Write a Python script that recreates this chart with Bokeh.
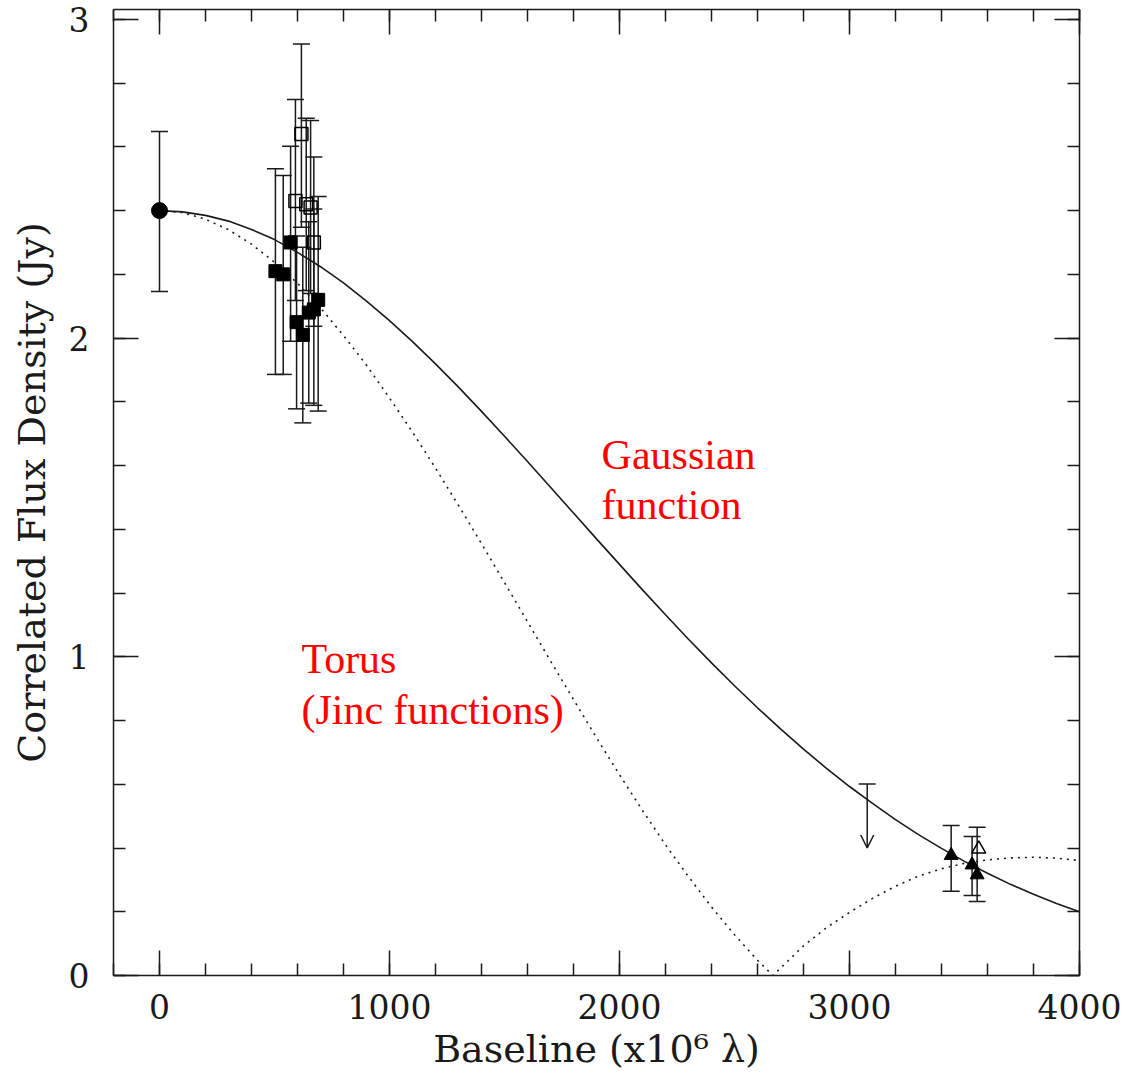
from bokeh.plotting import figure
from bokeh.models import (ColumnDataSource, Whisker, TeeHead, Arrow, OpenHead, Label,
                          LinearAxis, SingleIntervalTicker, Range1d)
from bokeh.embed import file_html
from bokeh.resources import INLINE

# ---------------- data ----------------
gauss_x = [0, 100, 200, 300, 400, 500, 600, 700, 800, 900, 1000, 1100, 1200, 1300, 1400,
           1500, 1600, 1700, 1800, 1900, 2000, 2100, 2200, 2300, 2400, 2500, 2600, 2700,
           2800, 2900, 3000, 3100, 3200, 3300, 3400, 3500, 3600, 3700, 3800, 3900, 4000]
gauss_y = [2.400, 2.396, 2.385, 2.367, 2.341, 2.309, 2.269, 2.224, 2.173, 2.116, 2.055,
           1.989, 1.919, 1.846, 1.770, 1.692, 1.613, 1.532, 1.451, 1.370, 1.290, 1.210,
           1.132, 1.055, 0.981, 0.909, 0.840, 0.774, 0.710, 0.650, 0.593, 0.540, 0.489,
           0.442, 0.399, 0.358, 0.321, 0.286, 0.255, 0.226, 0.200]

torus_x = [0, 100, 200, 300, 400, 500, 600, 700, 800, 900, 1000, 1100, 1200, 1300, 1400,
           1500, 1600, 1700, 1800, 1900, 2000, 2100, 2200, 2300, 2400, 2500, 2600, 2667,
           2700, 2800, 2900, 3000, 3100, 3200, 3300, 3400, 3500, 3600, 3700, 3800, 3900, 4000]
torus_y = [2.400, 2.394, 2.373, 2.340, 2.295, 2.238, 2.172, 2.095, 2.008, 1.915, 1.812,
           1.705, 1.592, 1.475, 1.355, 1.233, 1.110, 0.987, 0.866, 0.746, 0.630, 0.518,
           0.410, 0.310, 0.215, 0.128, 0.048, 0.000, 0.023, 0.093, 0.150, 0.198, 0.242,
           0.280, 0.312, 0.335, 0.352, 0.363, 0.369, 0.371, 0.368, 0.361]

circ_x = [0]
circ_y = [2.40]
circ_lo = [2.146]
circ_hi = [2.648]

fsq_x = [504, 538, 570, 596, 623, 649, 671, 690]
fsq_y = [2.21, 2.20, 2.30, 2.05, 2.01, 2.08, 2.09, 2.12]
fsq_lo = [1.886, 1.886, 1.990, 1.778, 1.734, 1.796, 1.789, 1.771]
fsq_hi = [2.531, 2.510, 2.602, 2.320, 2.285, 2.365, 2.405, 2.444]

osq_x = [591, 617, 638, 657, 671]
osq_y = [2.43, 2.64, 2.42, 2.41, 2.30]
osq_lo = [2.118, 2.348, 2.149, 2.140, 2.037]
osq_hi = [2.749, 2.923, 2.690, 2.683, 2.568]

ftri_x = [3442, 3533, 3555]
ftri_y = [0.377, 0.347, 0.316]
ftri_lo = [0.264, 0.251, 0.232]
ftri_hi = [0.471, 0.436, 0.465]

otri_x = [3562]
otri_y = [0.397]

ul_x = [3077]
ul_top = [0.601]
ul_tip = [0.400]

x_label = "Baseline (x10\u2076 \u03bb)"
y_label = "Correlated Flux Density (Jy)"

note_text = ["Gaussian", "function", "Torus", "(Jinc functions)"]
note_x = [1922, 1922, 617, 617]
note_y = [1.632, 1.476, 0.992, 0.833]

# ---------------- figure ----------------
INK = "#1a1a1a"
p = figure(width=1144, height=1081, x_range=Range1d(-200, 4000), y_range=Range1d(0, 3.031),
           output_backend="svg", toolbar_location=None,
           min_border_left=113, min_border_right=65, min_border_top=9, min_border_bottom=106)
p.xgrid.visible = False
p.ygrid.visible = False
p.outline_line_color = None
p.background_fill_color = "white"
p.border_fill_color = "white"


def style(ax, labels=True):
    ax.axis_line_color = INK
    ax.axis_line_width = 1.5
    ax.major_tick_line_color = INK
    ax.major_tick_line_width = 1.5
    ax.minor_tick_line_color = INK
    ax.minor_tick_line_width = 1.5
    ax.major_tick_in = 25
    ax.major_tick_out = 0
    ax.minor_tick_in = 12
    ax.minor_tick_out = 0
    if labels:
        ax.major_label_text_font = "DejaVu Serif"
        ax.major_label_text_font_size = "33px"
        ax.major_label_text_color = INK
        ax.axis_label_text_font = "DejaVu Serif"
        ax.axis_label_text_font_size = "38px"
        ax.axis_label_text_font_style = "normal"
        ax.axis_label_text_color = INK
    else:
        ax.major_label_text_font_size = "1px"
        ax.major_label_text_color = None
        ax.major_label_standoff = 0
        ax.axis_label = None


xt = SingleIntervalTicker(interval=1000, num_minor_ticks=5)
yt = SingleIntervalTicker(interval=1, num_minor_ticks=5)

xa = p.xaxis[0]
xa.ticker = xt
style(xa)
xa.axis_label = x_label
xa.major_label_standoff = 18
xa.axis_label_standoff = 5

ya = p.yaxis[0]
ya.ticker = yt
style(ya)
ya.axis_label = y_label
ya.major_label_standoff = 24
ya.axis_label_standoff = 12

top = LinearAxis(ticker=SingleIntervalTicker(interval=1000, num_minor_ticks=5))
style(top, labels=False)
p.add_layout(top, "above")
right = LinearAxis(ticker=SingleIntervalTicker(interval=1, num_minor_ticks=5))
style(right, labels=False)
p.add_layout(right, "right")

# ---------------- curves ----------------
p.line(gauss_x, gauss_y, line_color=INK, line_width=1.6)
p.line(torus_x, torus_y, line_color=INK, line_width=1.6, line_dash="2 5")

# ---------------- error bars ----------------
def bars(xs, lo, hi):
    src = ColumnDataSource(dict(x=xs, lo=lo, hi=hi))
    w = Whisker(source=src, base="x", lower="lo", upper="hi", dimension="height",
                line_color=INK, line_width=1.5,
                upper_head=TeeHead(size=17, line_color=INK, line_width=1.5),
                lower_head=TeeHead(size=17, line_color=INK, line_width=1.5))
    p.add_layout(w)


bars(circ_x, circ_lo, circ_hi)
bars(fsq_x, fsq_lo, fsq_hi)
bars(osq_x, osq_lo, osq_hi)
bars(ftri_x, ftri_lo, ftri_hi)

# ---------------- markers ----------------
p.scatter(circ_x, circ_y, marker="circle", size=16, fill_color="black", line_color="black")
p.scatter(fsq_x, fsq_y, marker="square", size=13, fill_color="black", line_color="black")
p.scatter(osq_x, osq_y, marker="square", size=13, fill_color=None, line_color="black",
          line_width=1.5)
p.scatter(ftri_x, ftri_y, marker="triangle", size=14, fill_color="black", line_color="black")
p.scatter(otri_x, otri_y, marker="triangle", size=14, fill_color=None, line_color="black",
          line_width=1.5)

# ---------------- upper limit ----------------
ul_src = ColumnDataSource(dict(x=ul_x, top=ul_top, tip=ul_tip))
p.add_layout(Arrow(source=ul_src, x_start="x", y_start="top", x_end="x", y_end="tip",
                   line_color=INK, line_width=1.5,
                   start=TeeHead(size=17, line_color=INK, line_width=1.5),
                   end=OpenHead(size=13, line_color=INK, line_width=1.5)))

# ---------------- annotations ----------------
for t, x, y in zip(note_text, note_x, note_y):
    p.add_layout(Label(x=x, y=y, text=t, text_font="Liberation Serif", text_font_size="42px",
                       text_color="#ff0000", text_baseline="alphabetic", text_align="left"))

open("out.html", "w").write(file_html(p, INLINE))
